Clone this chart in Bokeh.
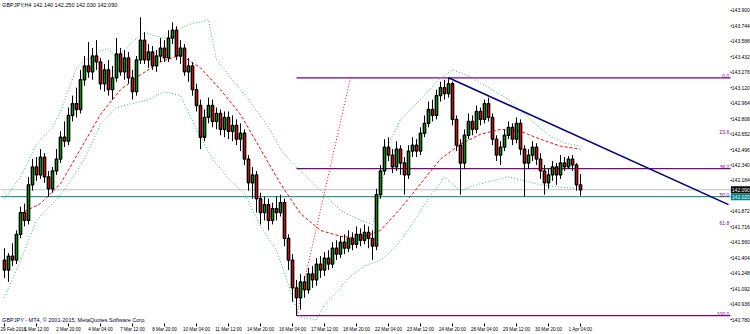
from bokeh.plotting import figure
from bokeh.models import ColumnDataSource, FixedTicker, Label, Range1d
from bokeh.core.properties import value
from bokeh.embed import file_html
from bokeh.resources import INLINE

# ---------------- data ----------------
opens = [141.38,141.28,141.42,141.38,141.64,141.86,141.78,142.14,142.32,142.24,
         142.42,142.22,142.10,142.28,142.40,142.62,142.58,142.84,142.96,142.90,
         143.20,143.34,143.28,143.44,143.38,143.16,143.30,143.10,143.22,143.46,
         143.28,143.42,143.22,143.08,143.40,143.60,143.40,143.48,143.34,143.44,
         143.52,143.42,143.62,143.70,143.44,143.52,143.28,143.34,143.10,142.94,
         142.62,142.82,142.94,142.78,142.86,142.70,142.82,142.68,142.74,142.60,
         142.66,142.40,142.16,142.24,142.00,141.86,141.94,141.78,141.90,141.86,
         141.96,141.60,141.38,141.10,141.00,141.16,141.08,141.24,141.18,141.34,
         141.28,141.40,141.34,141.50,141.44,141.56,141.50,141.60,141.54,141.64,
         141.58,141.66,141.60,141.52,142.04,142.28,142.52,142.44,142.32,142.50,
         142.36,142.24,142.48,142.54,142.48,142.66,142.76,142.90,142.84,143.04,
         143.12,143.06,143.16,142.80,142.54,142.36,142.64,142.78,142.70,142.88,
         142.80,142.96,142.82,142.60,142.44,142.52,142.64,142.72,142.60,142.76,
         142.50,142.36,142.44,142.52,142.40,142.28,142.16,142.24,142.32,142.24,
         142.36,142.32,142.40,142.34,142.14]
closes = [141.28,141.42,141.38,141.64,141.86,141.78,142.14,142.32,142.24,142.42,
          142.22,142.10,142.28,142.40,142.62,142.58,142.84,142.96,142.90,143.20,
          143.34,143.28,143.44,143.38,143.16,143.30,143.10,143.22,143.46,143.28,
          143.42,143.22,143.08,143.40,143.60,143.40,143.48,143.34,143.44,143.52,
          143.42,143.62,143.70,143.44,143.52,143.28,143.34,143.10,142.94,142.62,
          142.82,142.94,142.78,142.86,142.70,142.82,142.68,142.74,142.60,142.66,
          142.40,142.16,142.24,142.00,141.86,141.94,141.78,141.90,141.86,141.96,
          141.60,141.38,141.10,141.00,141.16,141.08,141.24,141.18,141.34,141.28,
          141.40,141.34,141.50,141.44,141.56,141.50,141.60,141.54,141.64,141.58,
          141.66,141.60,141.52,142.04,142.28,142.52,142.44,142.32,142.50,142.36,
          142.24,142.48,142.54,142.48,142.66,142.76,142.90,142.84,143.04,143.12,
          143.06,143.16,142.80,142.54,142.36,142.64,142.78,142.70,142.88,142.80,
          142.96,142.82,142.60,142.44,142.52,142.64,142.72,142.60,142.76,142.50,
          142.36,142.44,142.52,142.40,142.28,142.16,142.24,142.32,142.24,142.36,
          142.32,142.40,142.34,142.14,142.09]
highs = [141.50,141.45,141.55,141.68,141.92,141.95,142.22,142.40,142.42,142.50,
         142.46,142.28,142.32,142.50,142.68,142.78,142.92,143.04,143.12,143.30,
         143.44,143.58,143.52,143.60,143.42,143.36,143.40,143.34,143.62,143.52,
         143.50,143.48,143.30,143.44,143.83,143.68,143.56,143.54,143.50,143.62,
         143.60,143.70,143.78,143.74,143.60,143.56,143.42,143.38,143.16,143.00,
         142.90,143.02,143.00,142.92,142.90,142.88,142.88,142.84,142.80,142.76,
         142.70,142.44,142.32,142.28,142.06,142.02,142.00,141.96,142.02,142.04,
         142.00,141.64,141.44,141.18,141.24,141.22,141.30,141.32,141.40,141.42,
         141.46,141.48,141.56,141.58,141.62,141.64,141.68,141.66,141.72,141.70,
         141.74,141.72,141.68,142.10,142.34,142.60,142.62,142.50,142.58,142.54,
         142.42,142.54,142.62,142.60,142.72,142.84,142.98,143.00,143.10,143.18,
         143.20,143.22,143.18,142.84,142.60,142.70,142.86,142.84,142.94,142.92,
         143.00,143.02,142.86,142.64,142.58,142.70,142.78,142.76,142.82,142.80,
         142.54,142.50,142.58,142.56,142.46,142.34,142.30,142.38,142.36,142.44,
         142.42,142.43,142.44,142.36,142.25]
lows = [141.20,141.16,141.32,141.34,141.60,141.72,141.74,142.08,142.18,142.20,
        142.16,142.02,142.06,142.24,142.36,142.52,142.54,142.78,142.82,142.86,
        143.14,143.22,143.20,143.30,143.10,143.08,143.04,143.00,143.18,143.24,
        143.20,143.16,143.00,143.04,143.36,143.36,143.32,143.30,143.28,143.38,
        143.38,143.38,143.56,143.40,143.36,143.24,143.18,143.04,142.88,142.50,
        142.58,142.76,142.72,142.70,142.64,142.62,142.60,142.58,142.54,142.48,
        142.34,142.08,142.00,141.86,141.74,141.78,141.68,141.74,141.78,141.82,
        141.52,141.28,140.96,140.82,140.88,141.00,141.04,141.10,141.12,141.20,
        141.22,141.28,141.30,141.38,141.40,141.44,141.46,141.48,141.50,141.52,
        141.54,141.50,141.38,141.48,142.00,142.24,142.38,142.26,142.28,142.24,
        142.04,142.20,142.42,142.42,142.44,142.62,142.72,142.78,142.80,142.98,
        143.00,143.02,142.74,142.48,142.04,142.30,142.60,142.64,142.66,142.74,
        142.76,142.78,142.54,142.38,142.34,142.48,142.60,142.54,142.56,142.44,
        142.02,142.30,142.38,142.34,142.20,142.04,142.10,142.18,142.14,142.20,
        142.28,142.30,142.28,142.08,142.03]

# Bollinger bands (green dotted) and moving average (red dashed), read as points
bb_up_bar = [0,4,8,12,14,16,18,20,22,24,26,28,30,32,35,37,40,42,44,47,49,51,52,53,
             56,61,66,69,71,74,79,84,89,92,94,96,99,104,109,112,116,121,126,131,136,140,144]
bb_up = [142.00,142.22,142.55,142.72,142.88,143.10,143.32,143.40,143.42,143.49,143.52,
         143.42,143.50,143.58,143.68,143.65,143.62,143.64,143.72,143.77,143.78,143.81,
         143.60,143.40,143.25,143.00,142.72,142.50,142.40,142.28,142.08,141.88,141.78,
         141.74,142.05,142.55,142.80,143.00,143.22,143.30,143.24,143.12,143.00,142.82,
         142.64,142.56,142.53]
bb_lo_bar = [0,4,8,12,14,16,20,24,28,32,36,40,44,48,52,56,60,64,68,70,72,74,78,80,83,
             86,90,94,98,102,106,110,114,118,122,126,130,134,138,144]
bb_lo = [141.00,141.38,141.78,141.95,142.04,142.15,142.40,142.75,142.92,142.96,143.00,
         143.08,143.04,142.70,142.40,142.20,142.05,141.72,141.48,141.25,141.00,140.80,
         140.78,140.93,141.05,141.20,141.32,141.38,141.52,141.75,142.00,142.22,142.08,
         142.14,142.18,142.22,142.18,142.14,142.12,142.10]
ma_bar = [4,9,14,19,24,29,34,39,44,49,54,59,64,69,74,79,84,89,94,99,104,109,114,119,
          124,129,134,139,144]
ma = [141.85,141.95,142.15,142.50,142.85,143.10,143.25,143.38,143.45,143.32,143.10,
      142.85,142.50,142.15,141.85,141.68,141.62,141.60,141.68,141.90,142.15,142.40,
      142.55,142.65,142.70,142.68,142.60,142.53,142.50]

# Fibonacci retracement (anchors) and other objects
fib_low_bar, fib_low = 73, 140.82
fib_high_bar, fib_high = 86.5, 143.22
fib_levels = [0.0, 23.6, 38.2, 50.0, 61.8, 100.0]
fib_lines_drawn = [0.0, 38.2, 100.0]
trend_bars = [111, 181]
trend_prices = [143.22, 141.94]
bid_price = 142.09
hline_price = 142.02

price_ticks = [143.900, 143.744, 143.588, 143.432, 143.276, 143.120, 142.964, 142.808,
               142.652, 142.496, 142.340, 142.184, 141.872, 141.716, 141.560, 141.404,
               141.248, 141.092, 140.936, 140.780]
date_tick_bars = [0, 8, 16, 24, 32, 40, 48, 56, 64, 72, 80, 88, 96, 104, 112, 120, 128, 136, 144]
date_labels = ["29 Feb 2016", "1 Mar 12:00", "2 Mar 20:00", "4 Mar 04:00", "7 Mar 12:00",
               "8 Mar 20:00", "10 Mar 04:00", "11 Mar 12:00", "14 Mar 20:00", "16 Mar 04:00",
               "17 Mar 12:00", "18 Mar 20:00", "22 Mar 04:00", "23 Mar 12:00", "24 Mar 20:00",
               "28 Mar 04:00", "29 Mar 12:00", "30 Mar 20:00", "1 Apr 04:00"]
header_text = "GBPJPY,H4  142.140 142.250 142.030 142.090"
copyright_text = "GBPJPY - MT4, \u00a9 2001-2015, MetaQuotes Software Corp."

# ---------------- figure ----------------
FONT = "Liberation Sans"
XEND = 181.5      # right edge of the chart area (price scale starts here)
XMAX = 186.5      # right edge of the window
p = figure(width=750, height=334, output_backend="svg", toolbar_location=None,
           x_range=Range1d(-1, XMAX), y_range=Range1d(140.74, 144.0),
           y_axis_location=None, min_border=0)
p.outline_line_color = None
p.grid.visible = False
p.background_fill_color = "white"
p.border_fill_color = "white"

xa = p.xaxis[0]
xa.ticker = FixedTicker(ticks=date_tick_bars)
xa.major_label_overrides = {b: s for b, s in zip(date_tick_bars, date_labels)}
xa.major_label_text_font_size = "4.6px"
xa.major_label_text_font = FONT
xa.major_label_text_align = "left"
xa.major_label_text_color = "black"
xa.major_tick_out = 3
xa.major_tick_in = 0
xa.minor_tick_out = 0
xa.minor_tick_in = 0
xa.major_label_standoff = 0
xa.axis_line_color = None

# price scale (right side of the window)
p.segment(x0=[XEND] * len(price_ticks), y0=price_ticks,
          x1=[XEND + 0.35] * len(price_ticks), y1=price_ticks, line_color="black", line_width=1)
p.text(x=[XMAX - 0.15] * len(price_ticks), y=price_ticks,
       text=[f"{t:.3f}" for t in price_ticks], text_align="right", text_baseline="middle",
       text_font_size="5px", text_color="black", text_font=value(FONT))

# horizontal lines (bid line and the teal horizontal line)
p.segment(x0=[-1], y0=[bid_price], x1=[XEND], y1=[bid_price], line_color="#c0c0c0", line_width=1)
p.segment(x0=[-1], y0=[hline_price], x1=[XEND], y1=[hline_price], line_color="#008080", line_width=1)

# fibonacci
rng = fib_high - fib_low
fib_price = {lv: fib_high - lv / 100.0 * rng for lv in fib_levels}
for lv in fib_lines_drawn:
    p.segment(x0=[fib_low_bar], y0=[fib_price[lv]], x1=[XEND], y1=[fib_price[lv]],
              line_color="#800080", line_width=1.2)
p.line([fib_low_bar, fib_high_bar], [fib_low, fib_high], line_color="red",
       line_dash="1 2", line_width=1)
p.text(x=[XEND - 0.3] * len(fib_levels), y=[fib_price[lv] for lv in fib_levels],
       text=[f"{lv:.1f}" for lv in fib_levels], text_align="right",
       text_baseline="bottom", text_font_size="5px", text_color="#800080",
       text_font=value(FONT))

# indicators
p.line(bb_up_bar, bb_up, line_color="#3cb371", line_dash="1 2", line_width=1)
p.line(bb_lo_bar, bb_lo, line_color="#3cb371", line_dash="1 2", line_width=1)
p.line(ma_bar, ma, line_color="red", line_dash="3 2", line_width=1)

# candles
n = len(closes)
idx = list(range(n))
src = ColumnDataSource(dict(
    x=idx, o=opens, c=closes, h=highs, l=lows,
    top=[max(a, b) for a, b in zip(opens, closes)],
    bot=[min(a, b) for a, b in zip(opens, closes)],
    col=["#009000" if c >= o else "#e00000" for o, c in zip(opens, closes)],
))
p.segment(x0="x", y0="h", x1="x", y1="l", source=src, line_color="black", line_width=1)
p.vbar(x="x", width=0.6, top="top", bottom="bot", source=src, fill_color="col",
       line_color="black", line_width=1.3)

# trend line
p.line(trend_bars, trend_prices, line_color="#000080", line_width=1.6)

# price tags
tag_prices = [bid_price, hline_price]
tag_colors = ["black", "#008080"]
p.quad(left=[XEND + 0.1] * 2, right=[XMAX] * 2,
       bottom=[t - 0.035 for t in tag_prices], top=[t + 0.035 for t in tag_prices],
       fill_color=tag_colors, line_color=None)
p.text(x=[XMAX - 0.15] * 2, y=tag_prices, text=[f"{t:.3f}" for t in tag_prices],
       text_align="right", text_baseline="middle", text_font_size="5px",
       text_color="white", text_font=value(FONT))

# texts
p.add_layout(Label(x=-0.6, y=143.985, text=header_text, text_font_size="5.5px",
                   text_font=FONT, text_baseline="top", text_color="black"))
p.add_layout(Label(x=-0.6, y=140.75, text=copyright_text, text_font_size="5.5px",
                   text_font=FONT, text_baseline="bottom", text_color="#000040"))

open("out.html", "w").write(file_html(p, INLINE))
